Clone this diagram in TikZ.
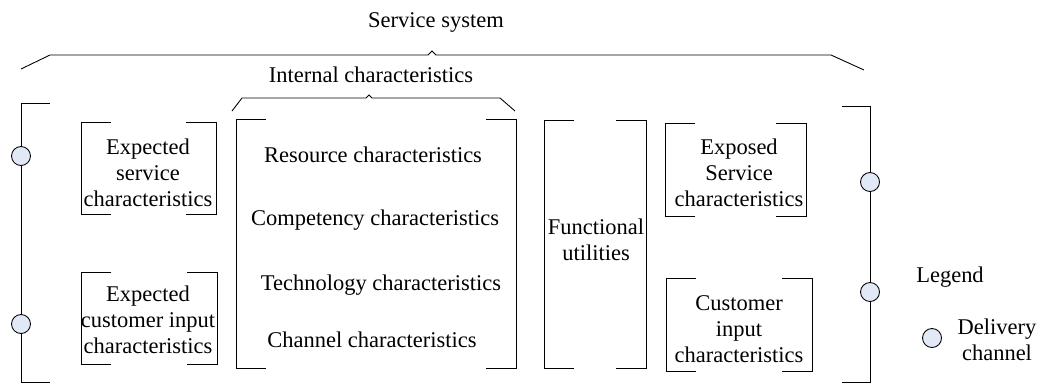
\documentclass[tikz,border=0pt]{standalone}
\usepackage{fontspec}
\setmainfont{Liberation Serif}
\usepackage{xcolor}
\usetikzlibrary{calc}
\definecolor{chanfill}{RGB}{226,233,246}
% pair of square brackets: top left corner, bottom right corner
\newcommand{\sqbrk}[2]{%
  \draw[brk] ($(#1)+(30,0)$) -- (#1) -- (#1 |- #2) -- ++(30,0);
  \draw[brk] ($(#2 |- #1)+(-30,0)$) -- (#2 |- #1) -- (#2) -- ++(-30,0);}
\begin{document}
\begin{tikzpicture}[x=0.02cm, y=-0.02cm,
% common options for the texts:
lbl/.style = {align=center, inner sep=0, font=\fontsize{12.8}{14.7}\selectfont},
txt/.style = {anchor=base, inner sep=0, font=\fontsize{12.8}{14.7}\selectfont},
% common options for lines and channels:
brk/.style = {draw=black, line width=0.5pt},
chan/.style = {circle, draw, fill=chanfill, line width=0.5pt,
            minimum size=0.38cm, inner sep=0}]
\useasboundingbox (0,0) rectangle (1040,383);
% braces
\node[txt] (sys) at (436,27) {Service system};
\draw[brk] (21,69) -- (50,55) -- (428,55) -- (432,51) -- (436,55) -- (831,55) -- (864,70);
\node[txt] (intl) at (371,82) {Internal characteristics};
\draw[brk] (232,111) -- (242,98) -- (366,98) -- (369,95) -- (372,98) -- (500,98) -- (515,111);
% corners of the groups
\coordinate (esA) at (81,122);  \coordinate (esB) at (216,214);
\coordinate (ecA) at (81,272);  \coordinate (ecB) at (217,364);
\coordinate (icA) at (236,119); \coordinate (icB) at (516,368);
\coordinate (fuA) at (544,120); \coordinate (fuB) at (646,368);
\coordinate (exA) at (665,123); \coordinate (exB) at (806,216);
\coordinate (ciA) at (666,278); \coordinate (ciB) at (812,371);
\foreach \g in {es,ec,ic,fu,ex,ci}
  \sqbrk{\g A}{\g B};
% texts
\node[lbl] (expsvc) at (148,173) {Expected\\service\\characteristics};
\node[lbl] (expcust) at (148,320) {Expected\\customer input\\characteristics};
\node[txt] (res) at (373,162) {Resource characteristics};
\node[txt] (comp) at (375,225) {Competency characteristics};
\node[txt] (tech) at (381,290) {Technology characteristics};
\node[txt] (chnl) at (372,347) {Channel characteristics};
\node[lbl] (func) at (596,239.5) {Functional\\utilities};
\node[lbl] (expo) at (739,173) {Exposed\\Service\\characteristics};
\node[lbl] (custin) at (739,329) {Customer\\input\\characteristics};
% outer brackets with delivery channels
\coordinate (oLt) at (21,103);  \coordinate (oLte) at (50,103);
\coordinate (oLb) at (21,382.5); \coordinate (oLbe) at (50,382.5);
\coordinate (oRt) at (870,106); \coordinate (oRte) at (842,106);
\coordinate (oRb) at (870,382.5); \coordinate (oRbe) at (842,382.5);
\node[chan] (cL1) at (21,156) {};
\node[chan] (cL2) at (21,324) {};
\node[chan] (cR1) at (870,182) {};
\node[chan] (cR2) at (870,292) {};
\draw[brk] (oLte) -- (oLt) -- (cL1) -- (cL2) -- (oLb) -- (oLbe);
\draw[brk] (oRte) -- (oRt) -- (cR1) -- (cR2) -- (oRb) -- (oRbe);
% legend
\node[txt] (leg) at (950,282) {Legend};
\node[chan] (cLeg) at (932,338) {};
\node[lbl] (deliv) at (997,340) {Delivery\\channel};
\end{tikzpicture}
\end{document}
